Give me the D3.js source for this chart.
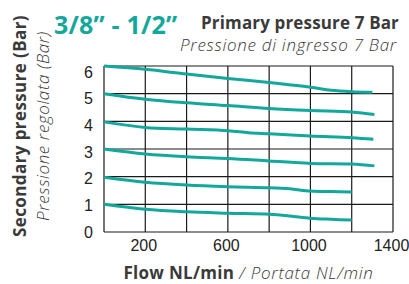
<!DOCTYPE html>
<html>
<head>
<meta charset="utf-8">
<script src="https://cdn.jsdelivr.net/npm/d3@7/dist/d3.min.js"></script>
<style>
    body { margin: 0; background: #fff; }
    svg { display: block; }
</style>
</head>
<body>
<script>
// Flow (NL/min), one curve per regulated pressure
var flowA = [0, 200, 400, 600, 800, 1000, 1100, 1200, 1300];
var p6 = [6.0, 5.88, 5.71, 5.55, 5.40, 5.23, 5.12, 5.07, 5.05];

var flowB = [0, 200, 400, 600, 800, 1000, 1200, 1310];
var p5 = [5.0, 4.80, 4.67, 4.57, 4.46, 4.39, 4.34, 4.25];

var flowC = [0, 200, 400, 600, 700, 800, 1000, 1200, 1305];
var p4 = [3.98, 3.78, 3.72, 3.66, 3.59, 3.55, 3.47, 3.41, 3.35];

var flowD = [0, 200, 400, 600, 800, 1000, 1200, 1310];
var p3 = [3.0, 2.82, 2.72, 2.66, 2.57, 2.48, 2.46, 2.39];

var flowE = [0, 200, 400, 600, 800, 900, 1000, 1100, 1200];
var p2 = [1.98, 1.80, 1.70, 1.64, 1.60, 1.56, 1.48, 1.46, 1.45];
var p1 = [1.0, 0.82, 0.73, 0.68, 0.64, 0.58, 0.50, 0.46, 0.43];

var xTicks = [200, 600, 1000, 1400];
var yTicks = [0, 1, 2, 3, 4, 5, 6];

var series = [
    {x: flowA, y: p6},
    {x: flowB, y: p5},
    {x: flowC, y: p4},
    {x: flowD, y: p3},
    {x: flowE, y: p2},
    {x: flowE, y: p1}
];

var teal = "#13a89b";
var dark = "#3a3a3a";

// margins put the plot box where it sits in the picture
var margin = {top: 66, right: 16, bottom: 52, left: 104},
    width = 409 - margin.left - margin.right,
    height = 284 - margin.top - margin.bottom;

var root = d3.select("body").append("svg")
    .attr("width", 409)
    .attr("height", 284);

var svg = root.append("g")
    .attr("transform", "translate(" + margin.left + "," + margin.top + ")");

var xScale = d3.scaleLinear().domain([0, 1400]).range([0, width]);
var yScale = d3.scaleLinear().domain([0, 6]).range([height, 0]);
// the printed y labels sit a bit lower than the grid lines near the top
var yLabel = d3.scaleLinear().domain([0, 6]).range([height, 6]);

// grid
svg.selectAll(".hgrid")
    .data(yTicks)
    .enter()
    .append("line")
    .attr("x1", 0)
    .attr("x2", width)
    .attr("y1", function(d) { return yScale(d); })
    .attr("y2", function(d) { return yScale(d); })
    .attr("stroke", "#1a1a1a")
    .attr("stroke-width", 1.2);

svg.selectAll(".vgrid")
    .data(d3.range(0, 1401, 200))
    .enter()
    .append("line")
    .attr("x1", function(d) { return xScale(d); })
    .attr("x2", function(d) { return xScale(d); })
    .attr("y1", 0)
    .attr("y2", height)
    .attr("stroke", "#1a1a1a")
    .attr("stroke-width", 1.2);

// curves
var line = d3.line()
    .x(function(d) { return xScale(d[0]); })
    .y(function(d) { return yScale(d[1]); })
    .curve(d3.curveCatmullRom);

svg.selectAll(".curve")
    .data(series)
    .enter()
    .append("path")
    .attr("d", function(s) { return line(d3.zip(s.x, s.y)); })
    .attr("fill", "none")
    .attr("stroke", teal)
    .attr("stroke-width", 3);

// axes, labels only
var xAxis = d3.axisBottom(xScale).tickValues(xTicks).tickSize(0)
    .tickPadding(8).tickFormat(d3.format("d"));
var yAxis = d3.axisLeft(yLabel).tickValues(yTicks).tickSize(0)
    .tickPadding(11).tickFormat(d3.format("d"));

var gx = svg.append("g")
    .attr("transform", "translate(-2," + height + ")")
    .call(xAxis);
var gy = svg.append("g").call(yAxis);

[gx, gy].forEach(function(g) {
    g.select(".domain").remove();
    g.selectAll("text")
        .attr("font-family", "'Liberation Sans', Arial, sans-serif")
        .attr("font-size", "16px")
        .attr("fill", "#222");
});

// titles
var font = "'Open Sans', sans-serif";

root.append("text")
    .attr("x", 54)
    .attr("y", 34)
    .attr("font-family", font)
    .attr("font-weight", "bold")
    .attr("font-size", "25px")
    .attr("letter-spacing", "0.2px")
    .attr("fill", teal)
    .text("3/8\u201D - 1/2\u201D");

root.append("text")
    .attr("x", 399)
    .attr("y", 29)
    .attr("text-anchor", "end")
    .attr("font-family", font)
    .attr("font-weight", "bold")
    .attr("font-size", "17px")
    .attr("letter-spacing", "0.15px")
    .attr("fill", dark)
    .text("Primary pressure 7 Bar");

root.append("text")
    .attr("x", 397)
    .attr("y", 51)
    .attr("text-anchor", "end")
    .attr("font-family", font)
    .attr("font-style", "italic")
    .attr("font-weight", 300)
    .attr("font-size", "17px")
    .attr("letter-spacing", "0.7px")
    .attr("fill", dark)
    .text("Pressione di ingresso 7 Bar");

// y titles, rotated
root.append("text")
    .attr("transform", "translate(26,126) rotate(-90)")
    .attr("text-anchor", "middle")
    .attr("font-family", font)
    .attr("font-weight", "bold")
    .attr("font-size", "17px")
    .attr("letter-spacing", "0.4px")
    .attr("fill", dark)
    .text("Secondary pressure (Bar)");

root.append("text")
    .attr("transform", "translate(49,126) rotate(-90)")
    .attr("text-anchor", "middle")
    .attr("font-family", font)
    .attr("font-style", "italic")
    .attr("font-weight", 300)
    .attr("font-size", "17px")
    .attr("letter-spacing", "0.6px")
    .attr("fill", dark)
    .text("Pressione regolata (Bar)");

// x title: bold part then italic part
var xt = root.append("text")
    .attr("x", margin.left + width / 2)
    .attr("y", 279)
    .attr("text-anchor", "middle")
    .attr("font-family", font)
    .attr("font-size", "17px")
    .attr("fill", dark);
xt.append("tspan").attr("font-weight", "bold").attr("letter-spacing", "0.3px")
    .text("Flow NL/min");
xt.append("tspan").attr("font-style", "italic").attr("font-weight", 300)
    .attr("letter-spacing", "0.7px")
    .text(" / Portata NL/min");
</script>
</body>
</html>
